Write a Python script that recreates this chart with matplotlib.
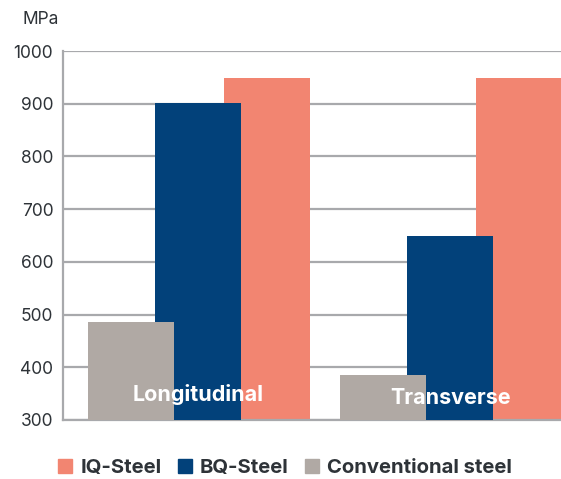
import matplotlib.pyplot as plt
import matplotlib.patches as patches
import numpy as np

plt.rcParams['font.family'] = ['Inter', 'DejaVu Sans']

# tensile strength, MPa
groups = ["Longitudinal", "Transverse"]
series = ["IQ-Steel", "BQ-Steel", "Conventional steel"]
iq_steel = [948, 948]
bq_steel = [902, 650]
conventional = [485, 385]

colors = {"IQ-Steel": "#F28571", "BQ-Steel": "#02417A", "Conventional steel": "#B0A9A4"}
grid_color = "#A8A9AC"
text_color = "#2E3338"

fig = plt.figure(figsize=(5.61, 4.79), dpi=100)
ax = fig.add_axes([63 / 561, 1 - 420 / 479, 1 - 63 / 561, (420 - 51) / 479])

x = np.arange(len(groups))
width = 0.341
# overlapping bars: salmon at back, gray in front
ax.bar(x + 0.275, iq_steel, width, color=colors["IQ-Steel"], zorder=2)
ax.bar(x, bq_steel, width, color=colors["BQ-Steel"], zorder=3)
ax.bar(x - 0.265, conventional, width, color=colors["Conventional steel"], zorder=4)

label_y = [348, 342]
for xi, name, ly in zip(x, groups, label_y):
    ax.text(xi, ly, name, color="white", fontsize=15.5, fontweight="bold",
            ha="center", va="center", zorder=6)

ax.set_ylim(300, 1000)
ax.set_xlim(-0.536, -0.536 + 498 / 252)
ax.set_yticks(np.arange(300, 1001, 100))
ax.set_xticks([])
ax.tick_params(axis="y", length=0, pad=7, labelsize=12.5, labelcolor=text_color)
ax.grid(axis="y", color=grid_color, linewidth=1.6, zorder=1)
ax.set_axisbelow(True)
for side in ["top", "right"]:
    ax.spines[side].set_visible(False)
for side in ["left", "bottom"]:
    ax.spines[side].set_color(grid_color)
    ax.spines[side].set_linewidth(1.6)

fig.text(23 / 561, 1 - 20 / 479, "MPa", fontsize=12.5, color=text_color,
         ha="left", va="center")

handles = [patches.Patch(color=colors[s]) for s in series]
fig.legend(handles, series, loc="center", bbox_to_anchor=(285 / 561, 1 - 468 / 479),
           ncol=3, frameon=False, handlelength=0.7, handleheight=0.7,
           handletextpad=0.4, columnspacing=0.8, borderpad=0.2,
           prop={"size": 14.6, "weight": "bold"}, labelcolor=text_color)

fig.savefig("out.png", dpi=100)
